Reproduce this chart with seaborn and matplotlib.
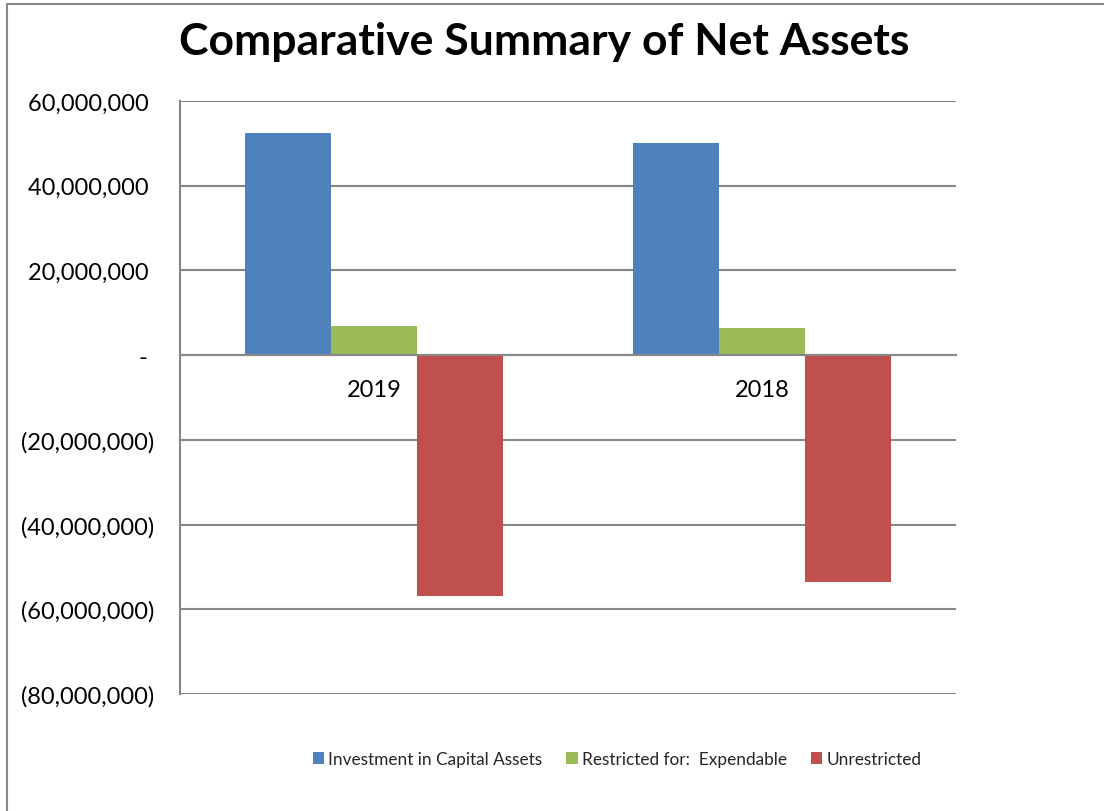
import matplotlib
matplotlib.use("Agg")
import matplotlib.pyplot as plt
import seaborn as sns
import pandas as pd
from matplotlib.ticker import FuncFormatter
from matplotlib.lines import Line2D

years = ["2019", "2018"]
categories = ["Investment in Capital Assets", "Restricted for:  Expendable", "Unrestricted"]
investment = [52_350_000, 50_200_000]
restricted = [6_800_000, 6_500_000]
unrestricted = [-56_800_000, -53_500_000]
colors = ["#4F81BD", "#9BBB59", "#C0504D"]

rows = []
for cat, vals in zip(categories, [investment, restricted, unrestricted]):
    for y, v in zip(years, vals):
        rows.append({"Year": y, "Category": cat, "Value": v})
df = pd.DataFrame(rows)

sns.set_theme(style="white")
plt.rcParams["font.family"] = ["Lato", "DejaVu Sans"]

fig = plt.figure(figsize=(11.04, 8.12), dpi=100)
ax = fig.add_axes([180/1104, 1-695/812, (956-180)/1104, (695-102)/812])

sns.barplot(data=df, x="Year", y="Value", hue="Category", order=years,
            hue_order=categories, palette=colors, saturation=1, width=0.667,
            ax=ax, legend=True, zorder=3, edgecolor="none", linewidth=0)

ax.set_ylim(-80_000_000, 60_000_000)
ax.set_xlim(-0.5, 1.5)
ax.set_yticks(range(-80_000_000, 60_000_001, 20_000_000))

def fmt(v, pos):
    if abs(v) < 1:
        return "-\u2009\u2009"
    if v < 0:
        return f"({abs(v):,.0f})"
    return f"{v:,.0f}\u2009\u2009"

ax.yaxis.set_major_formatter(FuncFormatter(fmt))
ax.grid(axis="y", color="#878787", linewidth=1.5, zorder=0)
ax.set_axisbelow(True)
ax.tick_params(axis="y", length=0, pad=18.5, labelsize=17, labelcolor="black")
ax.tick_params(axis="x", length=0, pad=17, labelsize=17, labelcolor="black")
ax.set_xlabel("")
ax.set_ylabel("")

for s in ["top", "right"]:
    ax.spines[s].set_visible(False)
ax.spines["left"].set_color("#878787")
ax.spines["left"].set_linewidth(1.5)
ax.spines["bottom"].set_position(("data", 0))
ax.spines["bottom"].set_color("#878787")
ax.spines["bottom"].set_linewidth(1.5)
ax.spines["bottom"].set_zorder(5)

leg = ax.get_legend()
handles = leg.legend_handles
leg.remove()
fig.legend(handles, categories, loc="center", bbox_to_anchor=(617/1104, 1-760/812),
           ncol=3, frameon=False, fontsize=12.4, handlelength=0.65, handleheight=0.65,
           handletextpad=0.25, columnspacing=1.4)

fig.text(544/1104, 1-42/812, "Comparative Summary of Net Assets", ha="center", va="center",
         fontsize=32, fontweight="bold", color="black")

fig.add_artist(Line2D([7/1104, 7/1104], [0, 1-5/812], transform=fig.transFigure,
                      color="#878787", linewidth=1.5))
fig.add_artist(Line2D([7/1104, 1], [1-5/812, 1-5/812], transform=fig.transFigure,
                      color="#878787", linewidth=1.5))

fig.savefig("out.png", dpi=100)
